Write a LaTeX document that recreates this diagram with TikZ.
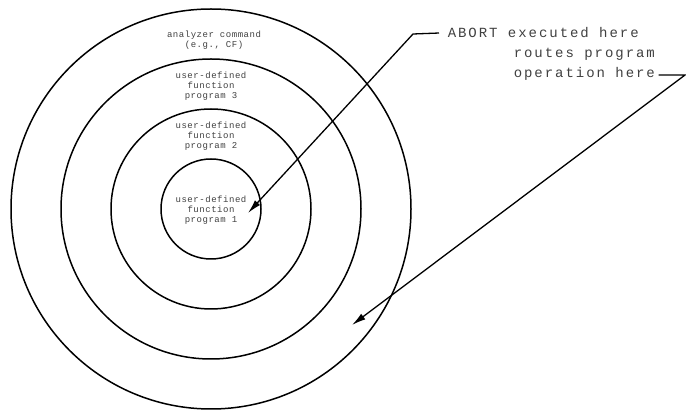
\documentclass[tikz,border=0pt]{standalone}
\usepackage{fontspec}
\usepackage{tikz}
\usetikzlibrary{arrows.meta}
\newfontfamily\ringfont{Liberation Mono}[LetterSpace=6]
\newfontfamily\notefont{Liberation Mono}[LetterSpace=14]

\begin{document}
\begin{tikzpicture}[x=1pt,y=-1pt,line width=1.5pt,
  ringtext/.style={align=center,font=\ringfont\fontsize{9}{10}\selectfont,text=black!75,inner sep=0pt},
  notetext/.style={font=\notefont\fontsize{14}{20}\selectfont,text=black!75,inner sep=0pt},
  pointer/.style={-{Latex[length=14pt,width=7pt]},line width=1.3pt}]
\useasboundingbox (0,0) rectangle (686,411);
% rings
\coordinate (c) at (211,209);
\foreach \r in {50,100,150,200}
  \draw (c) circle[radius=\r];
% ring labels
\node[ringtext] (cmd) at (214,40) {analyzer command\\(e.g., CF)};
\node[ringtext] (prog3) at (211,86) {user-defined\\function\\program 3};
\node[ringtext] (prog2) at (211,136) {user-defined\\function\\program 2};
\node[ringtext] (prog1) at (211,210) {user-defined\\function\\program 1};
% callout
\node[notetext,anchor=base west] (abort1) at (447,38) {ABORT executed here};
\node[notetext,anchor=base west] (abort2) at (513,58) {routes program};
\node[notetext,anchor=base west] (abort3) at (513,78) {operation here};
\coordinate (bend1) at (413,34);
\coordinate (tip1) at (248,213);
\coordinate (bend2) at (685,75);
\coordinate (tip2) at (352,325);
\draw[pointer] ([xshift=-8pt]abort1.west) -- (bend1) -- (tip1);
\draw[pointer] ([xshift=3pt,yshift=3pt]abort3.base east) -- (bend2) -- (tip2);
\end{tikzpicture}
\end{document}
